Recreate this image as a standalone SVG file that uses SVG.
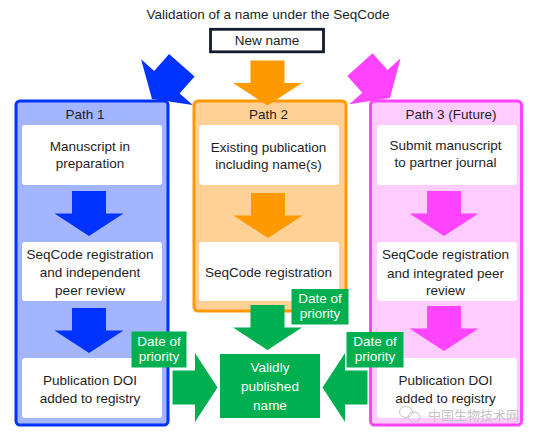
<svg xmlns="http://www.w3.org/2000/svg" xmlns:xlink="http://www.w3.org/1999/xlink" width="535" height="439" viewBox="0 0 535 439">
<style>
text{font-family:"Liberation Sans",Arial,sans-serif;font-size:13.5px;fill:#1e1e1e;text-anchor:middle}
.w{fill:#ffffff}
.box{fill:#ffffff;stroke:none}
.panel{stroke-width:3}
.lbl{fill:#00b050}
.wm{font-family:"Noto Sans CJK SC","Liberation Sans",sans-serif;font-size:13px;fill:#c4c4c4;text-anchor:start}
</style>
<defs>
<path id="arr" d="M-17,-45 H17 V-22.5 H34.5 L0,0 L-34.5,-22.5 H-17 Z"/>
</defs>
<rect width="535" height="439" fill="#ffffff"/>
<g id="title"><text x="268" y="19">Validation of a name under the SeqCode</text></g>
<g id="new-name">
<rect x="210.5" y="29.3" width="113" height="22.5" fill="#ffffff" stroke="#111a2e" stroke-width="2.8"/>
<text x="267" y="44.5">New name</text>
</g>
<g id="top-connectors">
<use xlink:href="#arr" href="#arr" fill="#0033ff" transform="translate(152,99) rotate(41.5)"/>
<use xlink:href="#arr" href="#arr" fill="#ff44ff" transform="translate(390,98) rotate(-42)"/>
</g>
<g id="path1">
<rect class="panel" x="16" y="101" width="152" height="324" rx="4" fill="#a3b5ff" stroke="#0033ff"/>
<text x="85" y="119">Path 1</text>
</g>
<g id="path2">
<rect class="panel" x="194" y="101" width="152" height="210" rx="4" fill="#ffd196" stroke="#ff9900"/>
<text x="268.5" y="119">Path 2</text>
</g>
<g id="path3">
<rect class="panel" x="370.5" y="101" width="151" height="324" rx="4" fill="#ffccff" stroke="#ff44ff"/>
<text x="451" y="119">Path 3 (Future)</text>
</g>
<g id="p1-manuscript">
<rect class="box" x="22" y="125" width="140" height="60" rx="3"/>
<text x="90" y="150.5">Manuscript in</text>
<text x="90" y="168">preparation</text>
</g>
<g id="p1-registration">
<rect class="box" x="22" y="242" width="140" height="59" rx="3"/>
<text x="90" y="258.5">SeqCode registration</text>
<text x="90" y="276.5">and independent</text>
<text x="90" y="294.5">peer review</text>
</g>
<g id="p1-doi">
<rect class="box" x="22" y="358" width="140" height="60" rx="3"/>
<text x="90" y="385">Publication DOI</text>
<text x="90" y="403">added to registry</text>
</g>
<g id="p2-existing">
<rect class="box" x="199" y="125" width="140" height="60" rx="3"/>
<text x="268.5" y="151.5">Existing publication</text>
<text x="268.5" y="169">including name(s)</text>
</g>
<g id="p2-registration">
<rect class="box" x="199" y="242" width="140" height="59" rx="3"/>
<text x="268.5" y="277">SeqCode registration</text>
</g>
<g id="p3-submit">
<rect class="box" x="377" y="125" width="140" height="60" rx="3"/>
<text x="445.5" y="149.5">Submit manuscript</text>
<text x="445.5" y="167">to partner journal</text>
</g>
<g id="p3-registration">
<rect class="box" x="377" y="242" width="140" height="59" rx="3"/>
<text x="445.5" y="259">SeqCode registration</text>
<text x="445.5" y="277.5">and integrated peer</text>
<text x="445.5" y="295">review</text>
</g>
<g id="p3-doi">
<rect class="box" x="377" y="358" width="140" height="60" rx="3"/>
<text x="445.5" y="384.5">Publication DOI</text>
<text x="445.5" y="402.5">added to registry</text>
</g>
<g id="connectors">
<use xlink:href="#arr" href="#arr" fill="#ff9900" transform="translate(267.5,105.5)"/>
<use xlink:href="#arr" href="#arr" fill="#0033ff" transform="translate(89,236)"/>
<use xlink:href="#arr" href="#arr" fill="#0033ff" transform="translate(89,353)"/>
<use xlink:href="#arr" href="#arr" fill="#ff9900" transform="translate(268,238)"/>
<use xlink:href="#arr" href="#arr" fill="#ff44ff" transform="translate(444,236)"/>
<use xlink:href="#arr" href="#arr" fill="#ff44ff" transform="translate(444,351)"/>
<use xlink:href="#arr" href="#arr" fill="#00b050" transform="translate(267.5,350)"/>
<use xlink:href="#arr" href="#arr" fill="#00b050" transform="translate(217.5,387.5) rotate(-90)"/>
<use xlink:href="#arr" href="#arr" fill="#00b050" transform="translate(322.5,387.5) rotate(90)"/>
</g>
<g id="validly-published-name">
<rect x="220" y="354" width="100" height="64" fill="#00b050"/>
<text class="w" x="270" y="372">Validly</text>
<text class="w" x="270" y="391">published</text>
<text class="w" x="270" y="409.5">name</text>
</g>
<g id="priority-p1">
<rect class="lbl" x="131.5" y="331.5" width="55" height="36"/>
<text class="w" x="159" y="345.5">Date of</text>
<text class="w" x="159" y="361">priority</text>
</g>
<g id="priority-p2">
<rect class="lbl" x="291.5" y="289" width="57" height="35.5"/>
<text class="w" x="320" y="302.5">Date of</text>
<text class="w" x="320" y="318">priority</text>
</g>
<g id="priority-p3">
<rect class="lbl" x="346.5" y="332" width="57" height="35.5"/>
<text class="w" x="375" y="345.5">Date of</text>
<text class="w" x="375" y="361">priority</text>
</g>
<g id="watermark">
<ellipse cx="406" cy="412" rx="6.5" ry="5.5" fill="none" stroke="#c4c4c4" stroke-width="1"/>
<ellipse cx="414" cy="417" rx="6" ry="5" fill="none" stroke="#c4c4c4" stroke-width="1"/>
<text class="wm" x="428" y="420">中国生物技术网</text>
</g>
</svg>
